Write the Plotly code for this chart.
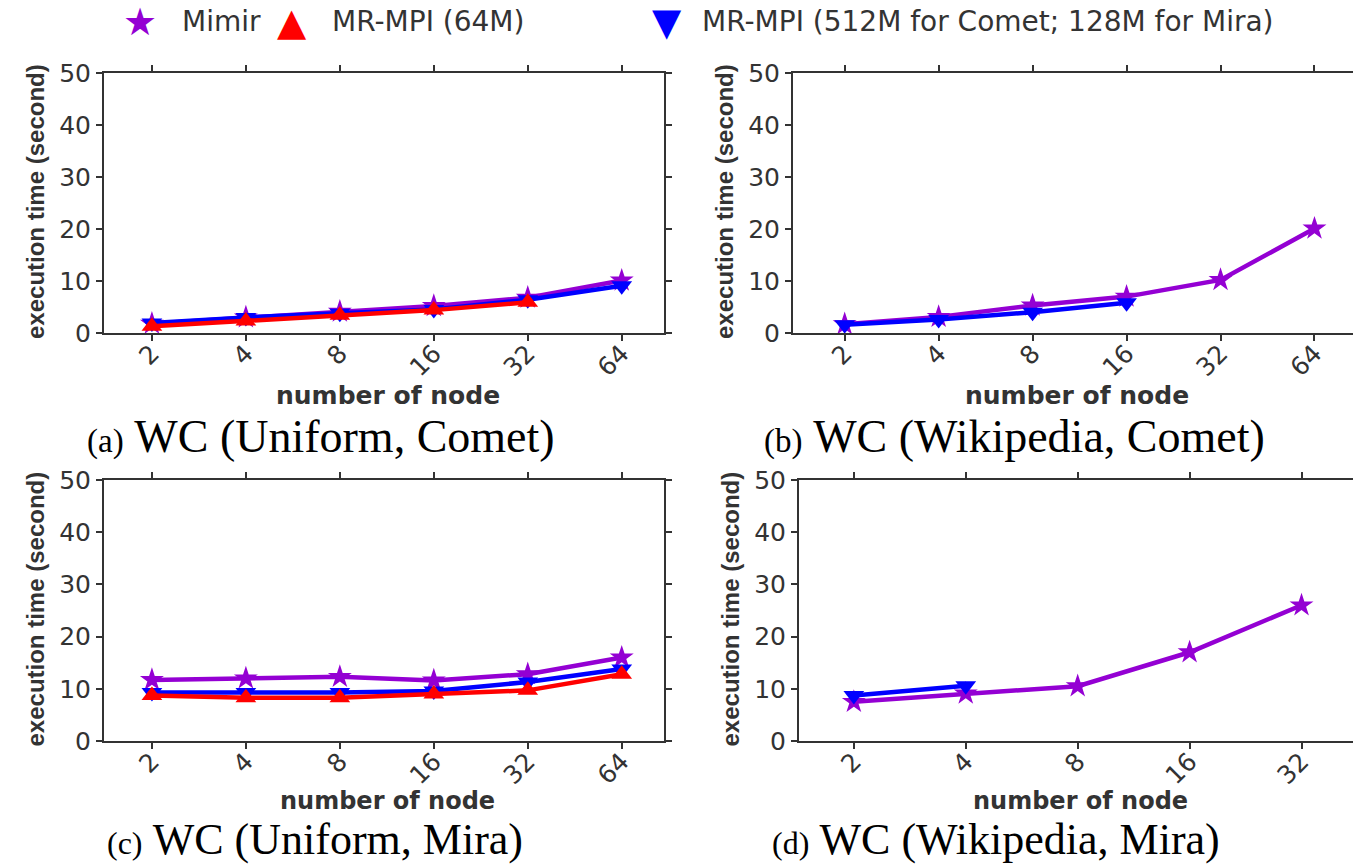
import plotly.graph_objects as go

W, H = 1353, 864

nodes6 = ["2", "4", "8", "16", "32", "64"]
nodes5 = ["2", "4", "8", "16", "32"]

a_mimir = [1.8, 3.0, 4.1, 5.2, 6.8, 10.1]
a_mr64 = [1.3, 2.3, 3.4, 4.4, 5.9]
a_mrbig = [1.9, 3.0, 3.8, 4.5, 6.4, 9.1]

b_mimir = [1.7, 3.1, 5.3, 7.0, 10.2, 20.1]
b_mrbig = [1.6, 2.6, 4.0, 5.8]

c_mimir = [11.7, 12.0, 12.3, 11.6, 12.8, 16.0]
c_mr64 = [8.7, 8.3, 8.3, 9.0, 9.7, 12.8]
c_mrbig = [9.3, 9.3, 9.3, 9.6, 11.3, 13.8]

d_mimir = [7.5, 9.1, 10.5, 17.0, 26.0]
d_mrbig = [8.7, 10.6]

y_ticks = [0, 10, 20, 30, 40, 50]
series_names = ["Mimir", "MR-MPI (64M)", "MR-MPI (512M for Comet; 128M for Mira)"]
captions = ["(a)", "WC (Uniform, Comet)", "(b)", "WC (Wikipedia, Comet)",
            "(c)", "WC (Uniform, Mira)", "(d)", "WC (Wikipedia, Mira)"]

PURPLE = "#9400D3"
RED = "#FF0000"
BLUE = "#0000FF"
AX = "#333333"

def px(x):
    return x / W

def py(y):
    return 1 - y / H

fig = go.Figure()

# panel geometry in pixels: (left, right, top, bottom, xrange)
panels = [
    (104, 664, 73, 333, [-0.51, 5.45], nodes6),
    (793, 1353, 73, 333, [-0.55, 5.41], nodes6),
    (104, 664, 480, 741, [-0.51, 5.45], nodes6),
    (799, 1353, 480, 741, [-0.49, 4.46], nodes5),
]

data = [
    [(a_mimir, PURPLE, "star"), (a_mrbig, BLUE, "triangle-down"), (a_mr64, RED, "triangle-up")],
    [(b_mimir, PURPLE, "star"), (b_mrbig, BLUE, "triangle-down")],
    [(c_mimir, PURPLE, "star"), (c_mrbig, BLUE, "triangle-down"), (c_mr64, RED, "triangle-up")],
    [(d_mimir, PURPLE, "star"), (d_mrbig, BLUE, "triangle-down")],
]

xtitle_y = [395, 395, 800.5, 800.5]
xtitle_size = [25, 25, 24, 24]

annotations = []
for i, (l, r, t, b, xr, cats) in enumerate(panels):
    n = i + 1
    xa = "x" if n == 1 else f"x{n}"
    ya = "y" if n == 1 else f"y{n}"
    for vals, col, sym in data[i]:
        fig.add_trace(go.Scatter(
            x=list(range(len(vals))), y=vals, xaxis=xa, yaxis=ya,
            mode="lines+markers", showlegend=False,
            line=dict(color=col, width=4.5),
            marker=dict(symbol=sym, size=18, color=col, line=dict(width=0)),
        ))
    axis_common = dict(showline=True, linecolor=AX, linewidth=2, mirror="ticks",
                       ticks="outside", tickcolor=AX, ticklen=6, tickwidth=2,
                       showgrid=False, zeroline=False, automargin=False)
    fig.layout[f"xaxis{'' if n == 1 else n}"] = dict(
        domain=[px(l), px(r)], range=xr, anchor=ya,
        tickmode="array", tickvals=list(range(len(cats))), ticktext=cats,
        tickangle=-45, ticklabelstandoff=-12,
        tickfont=dict(family="DejaVu Sans", size=25, color=AX),
        **axis_common)
    fig.layout[f"yaxis{'' if n == 1 else n}"] = dict(
        domain=[py(b), py(t)], range=[0, 50], anchor=xa,
        tickmode="array", tickvals=y_ticks,
        tickfont=dict(family="DejaVu Sans", size=25, color=AX),
        **axis_common)
    cx = (l + r) / 2
    # x axis title
    annotations.append(dict(x=px(cx + 4), y=py(xtitle_y[i]), xref="paper", yref="paper",
                            text="<b>number of node</b>", showarrow=False,
                            font=dict(family="DejaVu Sans", size=xtitle_size[i], color=AX),
                            xanchor="center", yanchor="middle"))
    # y axis title
    annotations.append(dict(x=px(l - 69), y=py((t + b) / 2 - 1), xref="paper", yref="paper",
                            text="<b>execution time (second)</b>", showarrow=False,
                            textangle=-90,
                            font=dict(family="Liberation Sans", size=24, color=AX),
                            xanchor="center", yanchor="middle"))

cap_pos = [(85, 436, 46), (762, 436, 46), (105, 839.5, 44), (770, 839.5, 44)]
for i, (x0, yc, fs) in enumerate(cap_pos):
    annotations.append(dict(x=px(x0), y=py(yc), xref="paper", yref="paper",
                            text=f"<span style='font-size:{round(fs * 0.72)}px'>{captions[2*i]}</span> {captions[2*i+1]}",
                            showarrow=False, xanchor="left", yanchor="middle",
                            font=dict(family="Liberation Serif", size=fs, color="black")))

# legend drawn as annotations
leg = [(140, "\u2605", PURPLE, 180, series_names[0]),
       (292, "\u25B2", RED, 330, series_names[1]),
       (667, "\u25BC", BLUE, 700, series_names[2])]
for sx, sym, col, tx, name in leg:
    annotations.append(dict(x=px(sx), y=py(22), xref="paper", yref="paper", text=sym,
                            showarrow=False, xanchor="center", yanchor="middle",
                            font=dict(family="DejaVu Sans", size=38, color=col)))
    annotations.append(dict(x=px(tx), y=py(22), xref="paper", yref="paper", text=name,
                            showarrow=False, xanchor="left", yanchor="middle",
                            font=dict(family="DejaVu Sans", size=28, color=AX)))

fig.update_layout(width=W, height=H,
                  margin=dict(l=0, r=0, t=0, b=0, autoexpand=False),
                  plot_bgcolor="white", paper_bgcolor="white",
                  annotations=annotations, showlegend=False)

fig.write_html("out.html")
